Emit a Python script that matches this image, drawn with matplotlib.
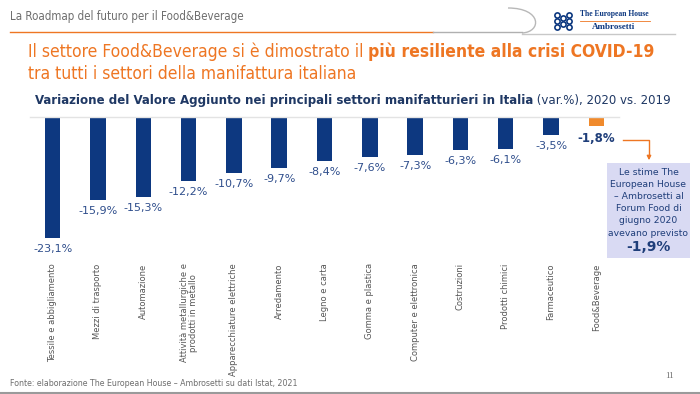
import matplotlib
matplotlib.use("Agg")
import matplotlib.pyplot as plt
from matplotlib.path import Path
from matplotlib.patches import PathPatch, Rectangle, FancyArrowPatch

# data
settori = ["Tessile e abbigliamento", "Mezzi di trasporto", "Automazione",
           "Attività metallurgiche e\nprodotti in metallo", "Apparecchiature elettriche",
           "Arredamento", "Legno e carta", "Gomma e plastica", "Computer e elettronica",
           "Costruzioni", "Prodotti chimici", "Farmaceutico", "Food&Beverage"]
var_pct = [-23.1, -15.9, -15.3, -12.2, -10.7, -9.7, -8.4, -7.6, -7.3, -6.3, -6.1, -3.5, -1.8]
stima_teha = -1.9

W, H = 700, 394
navy = "#0d3880"
lbl_blue = "#2f4e8c"
orange = "#ee7623"
gray = "#6e6e6e"
cond = dict(family="DejaVu Sans", fontstretch="condensed")

fig = plt.figure(figsize=(7, 3.94), dpi=100)
fig.patch.set_facecolor("white")

# overlay in pixel coords for the slide decorations
ov = fig.add_axes([0, 0, 1, 1])
ov.set_xlim(0, W)
ov.set_ylim(H, 0)
ov.axis("off")
ov.patch.set_alpha(0)

# bar chart area
ax = fig.add_axes([30 / W, 1 - 248 / H, 589 / W, 131 / H])
x = list(range(len(var_pct)))
colors = [navy] * (len(var_pct) - 1) + ["#f08a2c"]
ax.bar(x, var_pct, width=0.34, color=colors)
ax.set_xlim(-0.5, len(var_pct) - 0.5)
ax.set_ylim(-25, 0)
ax.axhline(0, color="#e3e3e3", lw=1, clip_on=False)
for s in ax.spines.values():
    s.set_visible(False)
ax.set_yticks([])
ax.set_xticks(x)
ax.set_xticklabels(settori, rotation=90, fontsize=6, color="#555555", linespacing=1.0)
ax.tick_params(axis="x", length=0, pad=11)
for i, v in enumerate(var_pct):
    txt = f"{v:.1f}".replace(".", ",") + "%"
    last = i == len(var_pct) - 1
    ax.text(i, v - 1.1, txt, ha="center", va="top", fontsize=8.5 if last else 8,
            color=lbl_blue if not last else "#1f3e7a",
            fontweight="bold" if last else "normal")
ax.patch.set_alpha(0)

r = fig.canvas.get_renderer()


def runs(x0, y0, parts, width, **kw):
    # place text pieces one after another, scaled so the whole line spans `width` px
    ts = [ov.text(x0, y0, s, fontweight=w, ha="left", va="center", fontsize=10, **kw)
          for s, w in parts]
    total = sum(t.get_window_extent(renderer=r).width for t in ts)
    fs = 10 * width / total
    xx = x0
    for t in ts:
        t.set_fontsize(fs)
        t.set_x(xx)
        xx += t.get_window_extent(renderer=r).width
    return fs


# header
runs(10, 16, [("La Roadmap del futuro per il Food&Beverage", "normal")], 235, color=gray, **cond)
ov.plot([10, 433], [32, 32], color=orange, lw=1)
ov.plot([433, 522], [32, 32], color="#b0b0b0", lw=1)
ov.plot([522, 675], [34, 34], color="#c8c8c8", lw=1)
sw = Path([(508, 8), (542, 8), (542, 32), (522, 33)],
          [Path.MOVETO, Path.CURVE4, Path.CURVE4, Path.CURVE4])
ov.add_patch(PathPatch(sw, fill=False, ec="#b8b8b8", lw=1))
for cx, cy in [(557, 15), (557, 21), (557, 27), (563, 18), (563, 24), (569, 15), (569, 21), (569, 27)]:
    ov.scatter(cx, cy, s=14, facecolors="white", edgecolors=navy, linewidths=1.2, zorder=3)
ov.text(614, 14, "The European House", fontsize=5.5, color=navy, family="Liberation Serif",
        fontweight="bold", ha="center", va="center")
ov.plot([580, 650], [20.5, 20.5], color=orange, lw=0.6)
ov.text(614, 27, "Ambrosetti", fontsize=6.5, color=navy, family="Liberation Serif",
        fontweight="bold", ha="center", va="center")

# title
fs_t = runs(28, 52, [("Il settore Food&Beverage si è dimostrato il ", "normal"),
                     ("più resiliente alla crisi COVID-19", "bold")],
            622, color=orange, **cond)
ov.text(28, 74, "tra tutti i settori della manifattura italiana", fontsize=fs_t, color=orange,
        va="center", **cond)

# chart subtitle
runs(35, 100, [("Variazione del Valore Aggiunto nei principali settori manifatturieri in Italia", "bold"),
               (" (var.%), 2020 vs. 2019", "normal")],
     630, color="#1f3864", **cond)

# callout
ov.plot([623, 649, 649], [140, 140, 156], color=orange, lw=1)
ov.add_patch(FancyArrowPatch((649, 154), (649, 163), arrowstyle="-|>", mutation_scale=6,
                             color=orange, lw=1))
ov.add_patch(Rectangle((607, 163), 83, 95, facecolor="#d9daf3", edgecolor="none"))
box_lines = ["Le stime The", "European House", "– Ambrosetti al", "Forum Food di",
             "giugno 2020", "avevano previsto"]
for k, s in enumerate(box_lines):
    ov.text(648.5, 172 + k * 12.2, s, fontsize=6.7, color="#1f3e7a", ha="center", va="center")
ov.text(648.5, 247, f"{stima_teha:.1f}".replace(".", ",") + "%", fontsize=10,
        fontweight="bold", color="#1f3e7a", ha="center", va="center")

# footer
runs(10, 383, [("Fonte: elaborazione The European House – Ambrosetti su dati Istat, 2021", "normal")],
     288, color=gray, **cond)
ov.text(665, 376, "11", fontsize=6.5, color=gray, family="Liberation Serif", va="center")
ov.plot([0, 700], [392.5, 392.5], color="#9a9a9a", lw=1.5)

fig.savefig("out.png", dpi=100)
